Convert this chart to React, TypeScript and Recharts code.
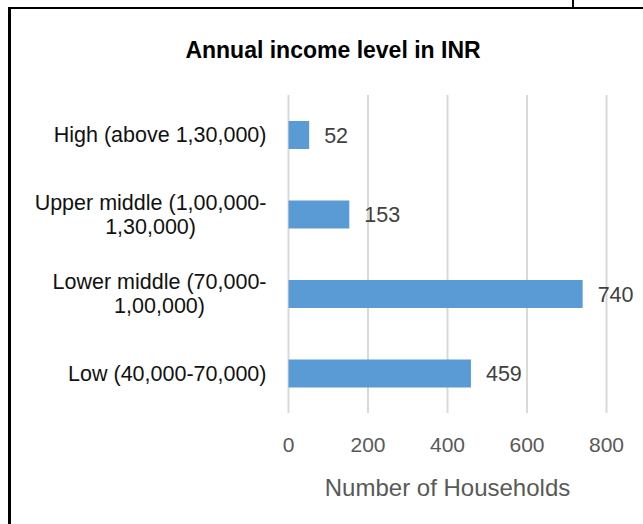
import React from "react";
import { BarChart, Bar, XAxis, YAxis, CartesianGrid, LabelList } from "recharts";

const categories = [
  "High (above 1,30,000)",
  "Upper middle (1,00,000-1,30,000)",
  "Lower middle (70,000-1,00,000)",
  "Low (40,000-70,000)",
];
const households = [52, 153, 740, 459];
const xTicks = [0, 200, 400, 600, 800];
const chartTitle = "Annual income level in INR";
const xAxisTitle = "Number of Households";

const data = categories.map((name, i) => ({ name, value: households[i] }));

const FONT = '"Liberation Sans", Arial, sans-serif';
const LABEL_SIZE = 21.5;

let ctx: CanvasRenderingContext2D | null = null;
function measure(t: string, size: number) {
  if (!ctx) ctx = document.createElement("canvas").getContext("2d");
  if (!ctx) return t.length * size * 0.5;
  ctx.font = `${size}px "Liberation Sans", Arial, sans-serif`;
  return ctx.measureText(t).width;
}

function wrap(text: string, maxW: number, size: number) {
  const tokens = (text.match(/[^ -]*[ -]?/g) || []).filter(Boolean);
  const lines: string[] = [];
  let line = "";
  for (const tok of tokens) {
    if (line && measure((line + tok).trimEnd(), size) > maxW) {
      lines.push(line.trimEnd());
      line = tok;
    } else {
      line += tok;
    }
  }
  if (line) lines.push(line.trimEnd());
  return lines;
}

function CategoryTick(props: any) {
  const { x, y, payload } = props;
  const lines = wrap(String(payload.value), 245, LABEL_SIZE);
  const maxW = Math.max(...lines.map((l) => measure(l, LABEL_SIZE)));
  const cx = x - maxW / 2;
  const lineH = 24;
  const startY = y - ((lines.length - 1) * lineH) / 2;
  return (
    <text textAnchor="middle" fill="#111111" fontSize={LABEL_SIZE} fontFamily={FONT}>
      {lines.map((l, i) => (
        <tspan key={i} x={cx} y={startY + i * lineH} dy="0.35em">
          {l}
        </tspan>
      ))}
    </text>
  );
}

function AxisTitle(props: any) {
  const vb = props.viewBox || {};
  return (
    <text
      x={vb.x + vb.width / 2}
      y={vb.y + 75}
      dy="0.35em"
      textAnchor="middle"
      fill="#595959"
      fontSize={24}
      fontFamily={FONT}
    >
      {xAxisTitle}
    </text>
  );
}

export default function App() {
  return (
    <div style={{ position: "absolute", left: 0, top: 0, width: 643, height: 524, background: "#fff" }}>
      <div style={{ position: "absolute", left: 8, top: 7, width: 635, height: 2, background: "#000" }} />
      <div style={{ position: "absolute", left: 8, top: 7, width: 3, height: 517, background: "#000" }} />
      <div style={{ position: "absolute", left: 572, top: 0, width: 2, height: 8, background: "#000" }} />
      <div
        style={{
          position: "absolute",
          left: 333,
          top: 39,
          transform: "translateX(-50%)",
          whiteSpace: "nowrap",
          fontFamily: FONT,
          fontWeight: "bold",
          fontSize: 23,
          lineHeight: "23px",
          color: "#000",
        }}
      >
        {chartTitle}
      </div>
      <div style={{ position: "absolute", left: 0, top: 0 }}>
        <BarChart
          width={643}
          height={524}
          data={data}
          layout="vertical"
          margin={{ top: 95, right: 36.5, bottom: 31, left: 0 }}
        >
          <CartesianGrid horizontal={false} stroke="#d9d9d9" strokeWidth={2} />
          <XAxis
            type="number"
            domain={[0, 800]}
            ticks={xTicks}
            tickLine={false}
            axisLine={false}
            tickSize={0}
            tickMargin={24}
            height={80}
            tick={{ fill: "#595959", fontSize: 21, fontFamily: FONT }}
            label={<AxisTitle />}
          />
          <YAxis
            type="category"
            dataKey="name"
            width={288.5}
            tickLine={false}
            axisLine={false}
            tickSize={0}
            tickMargin={22}
            interval={0}
            tick={<CategoryTick />}
          />
          <Bar dataKey="value" fill="#5b9bd5" barSize={28} isAnimationActive={false}>
            <LabelList
              dataKey="value"
              position="right"
              offset={15}
              fill="#404040"
              fontSize={21.5}
              fontFamily={FONT}
            />
          </Bar>
        </BarChart>
      </div>
    </div>
  );
}
